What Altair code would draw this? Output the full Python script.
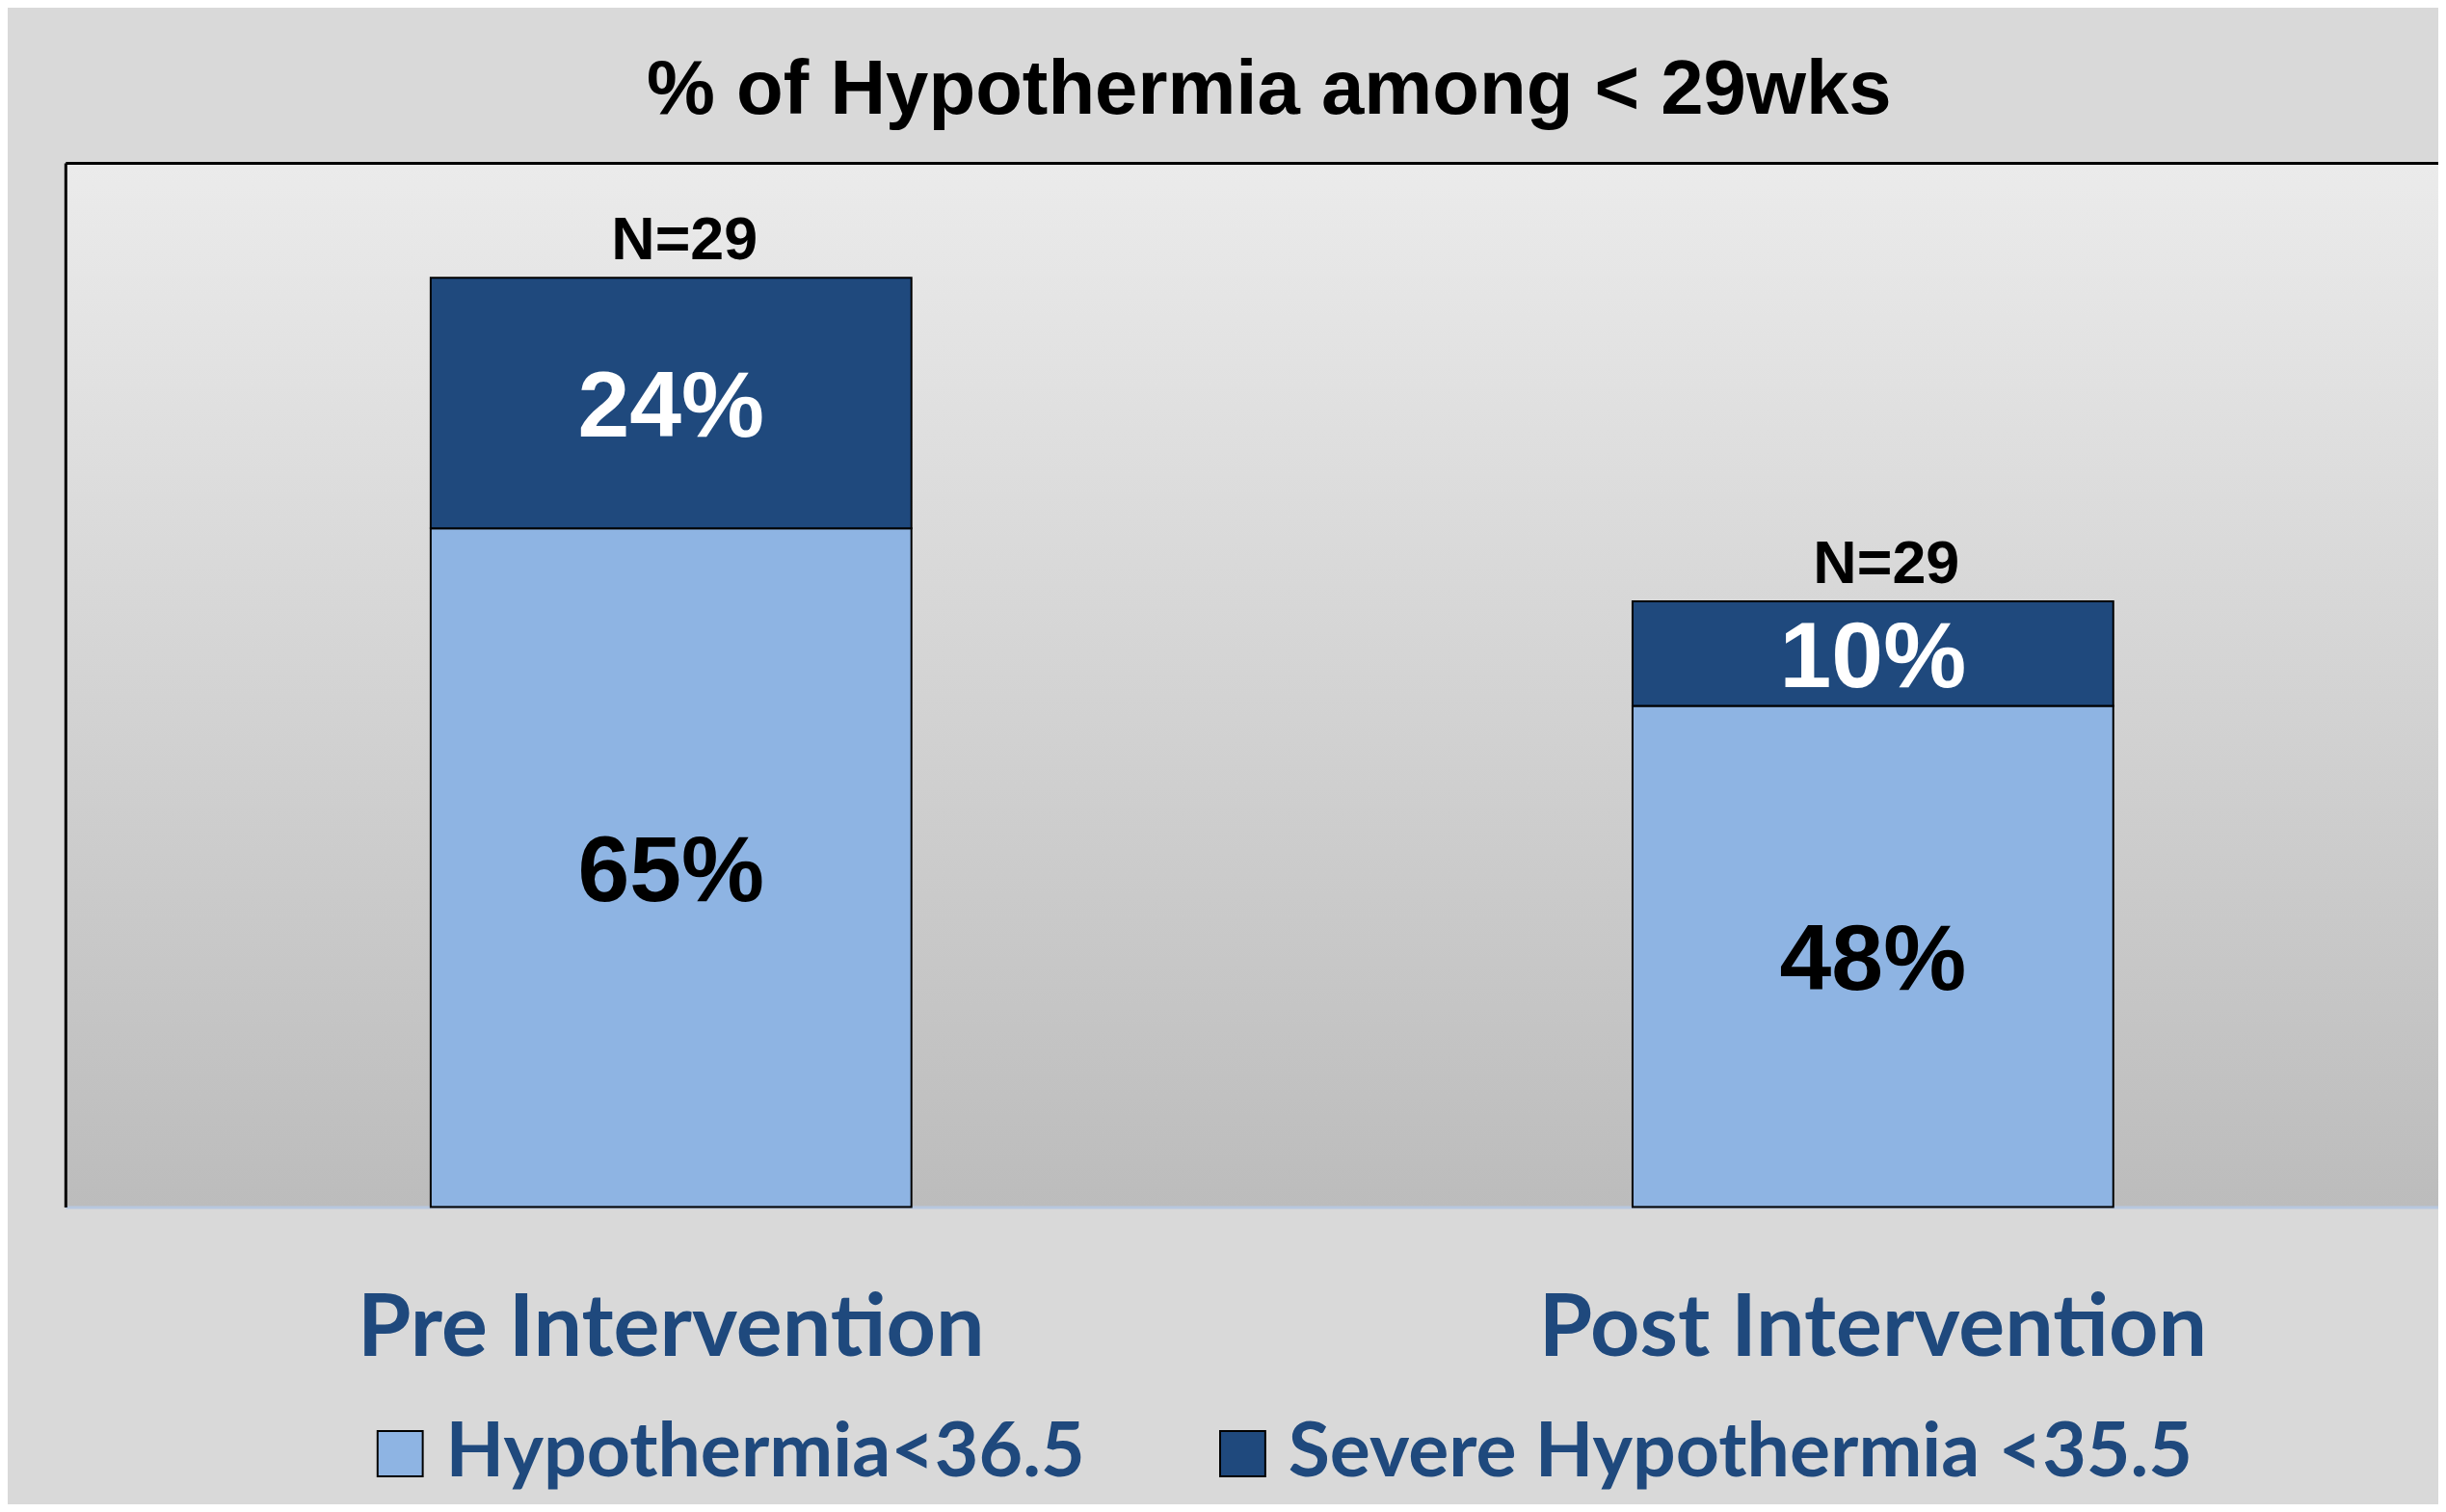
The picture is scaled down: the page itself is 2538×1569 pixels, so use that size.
import altair as alt
import pandas as pd

# ---- data ----
groups = ["Pre Intervention", "Post Intervention"]
series = ["Hypothermia<36.5", "Severe Hypothermia <35.5"]
hypothermia = [65, 48]
severe = [24, 10]
n_labels = ["N=29", "N=29"]
title_text = "% of Hypothermia among < 29wks"

rows = []
for g, a, b in zip(groups, hypothermia, severe):
    rows.append({"group": g, "series": series[0], "value": a, "order": 0})
    rows.append({"group": g, "series": series[1], "value": b, "order": 1})
df = pd.DataFrame(rows)
totals = pd.DataFrame({
    "group": groups,
    "total": [a + b for a, b in zip(hypothermia, severe)],
    "n": n_labels,
})

W, H = 2470, 1087
LIGHT = "#8EB4E3"
DARK = "#1F497D"

x_scale = alt.Scale(domain=groups, paddingInner=0.6, paddingOuter=0.2872, align=0.5292)
y_scale = alt.Scale(domain=[0, 100], nice=False, zero=True)

x_axis = alt.Axis(
    title=None, labelAngle=0, domain=True, domainColor="#b7c7df", domainWidth=3,
    ticks=False, tickSize=0, grid=False,
    labelFont="Lato", labelFontWeight="bold", labelFontSize=90, labelColor=DARK,
    labelPadding=154, labelBaseline="alphabetic", labelLimit=0,
)
y_axis = alt.Axis(
    title=None, labels=False, ticks=False, domain=True, domainColor="black",
    domainWidth=3, grid=True, values=[100], gridColor="black", gridWidth=3,
    gridOpacity=1,
)

base = alt.Chart(df).transform_stack(
    stack="value", groupby=["group"], as_=["v0", "v1"],
    sort=[alt.SortField("order", "ascending")],
).transform_calculate(
    mid="(datum.v0 + datum.v1) / 2",
    label="datum.value + '%'",
)

bars = base.mark_bar(stroke="black", strokeWidth=2).encode(
    x=alt.X("group:N", scale=x_scale, sort=groups, axis=x_axis),
    y=alt.Y("v1:Q", scale=y_scale, axis=y_axis),
    y2="v0:Q",
    color=alt.Color(
        "series:N",
        scale=alt.Scale(domain=series, range=[LIGHT, DARK]),
        legend=alt.Legend(
            title=None, orient="none", legendX=309, legendY=1304,
            direction="horizontal", symbolType="square", symbolSize=2209,
            symbolStrokeColor="black", symbolStrokeWidth=2, symbolOpacity=1,
            labelFont="Lato", labelFontWeight="bold", labelFontSize=79,
            labelColor=DARK, labelOffset=8, columnPadding=124, labelLimit=0,
            padding=0,
        ),
    ),
)

pct = base.mark_text(
    font="Liberation Sans", fontWeight="bold", fontSize=97,
    baseline="alphabetic", dy=35,
).encode(
    x=alt.X("group:N", scale=x_scale, sort=groups),
    y=alt.Y("mid:Q", scale=y_scale),
    text="label:N",
    color=alt.condition(alt.datum.series == series[1], alt.value("white"), alt.value("black")),
)

nlab = alt.Chart(totals).mark_text(
    font="Liberation Sans", fontWeight="bold", fontSize=63,
    baseline="alphabetic", dy=-19, dx=14, color="black",
).encode(
    x=alt.X("group:N", scale=x_scale, sort=groups),
    y=alt.Y("total:Q", scale=y_scale),
    text="n:N",
)

chart = alt.layer(bars, pct, nlab).properties(
    width=W, height=H,
    autosize="none",
    padding={"left": 60, "top": 159, "right": 0, "bottom": 307},
    title=alt.TitleParams(
        text=title_text, font="Liberation Sans", fontSize=80, fontWeight="bold",
        color="black", anchor="middle", frame="group", baseline="bottom",
        offset=34, dx=18, dy=80,
    ),
).configure(background="#d9d9d9").configure_view(
    stroke=None,
    fill={"expr": "{gradient: 'linear', x1: 0, y1: 0, x2: 0, y2: 1, stops: [{offset: 0, color: '#ebebeb'}, {offset: 1, color: '#bcbcbc'}]}"},
)

chart.save("out.html", embed_options={"renderer": "svg", "actions": False})
